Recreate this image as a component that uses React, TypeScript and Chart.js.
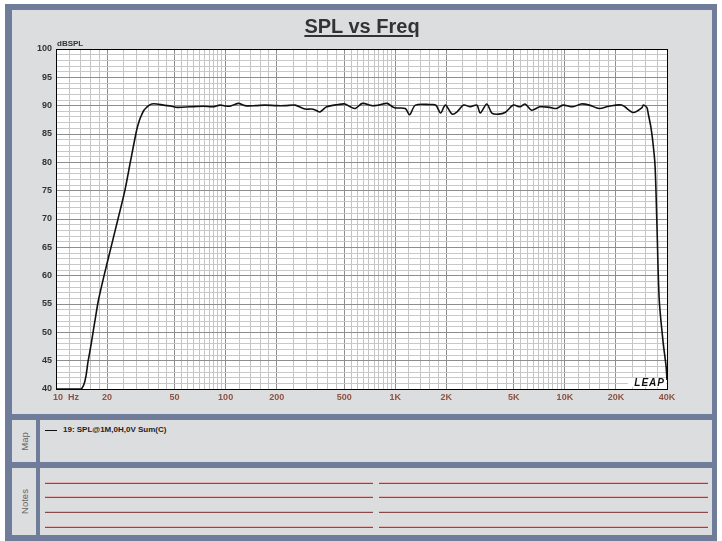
import React, { useEffect, useRef } from "react";
import { Chart, registerables } from "chart.js";

Chart.register(...registerables);

// ---- data ----
const FREQ_HZ = [10, 14.1, 15.5, 17, 17.8, 19.2, 21.1, 23.2, 25.5, 27.5, 29.9, 31, 32, 33, 34.2, 35.5, 36.7, 39.2, 43, 48, 52, 61.5, 74, 84, 92.6, 99, 106, 118.6, 130, 150, 170, 200, 224, 257, 294, 320, 340, 360, 394, 461, 505, 543, 582, 640, 728, 797, 895, 962, 1000, 1146, 1215, 1315, 1620, 1735, 1850, 1975, 2166, 2315, 2530, 2770, 3030, 3170, 3465, 3710, 4055, 4440, 4970, 5440, 5820, 6370, 7120, 8150, 8910, 9740, 11150, 12470, 13930, 15930, 18220, 21600, 25300, 28400, 29000, 30400, 31000, 32100, 32900, 34000, 34900, 36000, 38000, 39500, 40000];
const SPL_DB = [40, 40, 45.1, 52.2, 55.7, 60, 65, 70, 75.1, 80.2, 85.7, 87.4, 88.4, 89.2, 89.7, 90.1, 90.3, 90.3, 90.1, 89.9, 89.7, 89.8, 89.9, 89.8, 90.1, 89.95, 89.9, 90.4, 90.0, 90.0, 90.1, 90.0, 90.0, 90.1, 89.4, 89.4, 89.2, 88.9, 89.8, 90.2, 90.3, 89.8, 89.5, 90.4, 90.0, 90.1, 90.4, 89.8, 89.6, 89.5, 88.4, 90.1, 90.2, 90.1, 88.7, 90.1, 88.5, 88.9, 90.1, 89.8, 90.1, 88.7, 90.3, 88.7, 88.5, 88.8, 90.1, 89.8, 90.3, 89.2, 89.8, 89.7, 89.5, 90.1, 89.8, 90.3, 90.1, 89.5, 89.9, 90.1, 88.8, 89.6, 90.1, 89.7, 88.6, 86.3, 84.0, 79.5, 68.9, 55.7, 48.1, 44.0, 41.6];

const X_MIN = 10;
const X_MAX = 40000;
const Y_MIN = 40;
const Y_MAX = 100;
const X_LABELS: Record<string, string> = {
  "10": "        10  Hz",
  "20": "20",
  "50": "50",
  "100": "100",
  "200": "200",
  "500": "500",
  "1000": "1K",
  "2000": "2K",
  "5000": "5K",
  "10000": "10K",
  "20000": "20K",
  "40000": "40K",
};
const X_GRID_MULT = [1, 1.2, 1.4, 1.6, 1.8, 2, 2.5, 3, 3.5, 4, 4.5, 5, 5.5, 6, 6.5, 7, 7.5, 8, 8.5, 9, 9.5];
const DECADES = [10, 100, 1000, 10000];
const SERIES_LABEL = "19: SPL@1M,0H,0V Sum(C)";

function buildXGrid(): number[] {
  const out: number[] = [];
  for (const d of DECADES) {
    for (const m of X_GRID_MULT) {
      const v = Math.round(d * m * 1000) / 1000;
      if (v <= X_MAX && out.indexOf(v) < 0) out.push(v);
    }
  }
  if (out.indexOf(X_MAX) < 0) out.push(X_MAX);
  return out;
}

const SLATE = "#707d9a";
const PANEL = "#dcdddf";

const framePlugin = {
  id: "frameDeco",
  beforeDraw(chart: any) {
    const { ctx, chartArea } = chart;
    ctx.save();
    ctx.fillStyle = "#ffffff";
    ctx.fillRect(chartArea.left, chartArea.top, chartArea.right - chartArea.left, chartArea.bottom - chartArea.top);
    ctx.restore();
  },
  afterDraw(chart: any) {
    const { ctx, chartArea } = chart;
    const { left, top, right, bottom } = chartArea;
    ctx.save();
    ctx.strokeStyle = "#000";
    ctx.lineWidth = 1;
    ctx.strokeRect(Math.round(left) + 0.5, Math.round(top) + 0.5, Math.round(right - left), Math.round(bottom - top));
    // unit label
    ctx.fillStyle = "#333";
    ctx.font = "bold 8px 'Liberation Sans', Arial, sans-serif";
    ctx.textAlign = "left";
    ctx.textBaseline = "alphabetic";
    ctx.fillText("dBSPL", left + 1, top - 3);
    // LEAP logo
    const bw = 38, bh = 9;
    ctx.fillStyle = "#fff";
    ctx.fillRect(right - bw - 1, bottom - bh - 2, bw, bh);
    ctx.fillStyle = "#111";
    ctx.font = "italic bold 10px 'Liberation Sans', Arial, sans-serif";
    (ctx as any).letterSpacing = "1px";
    ctx.textAlign = "right";
    ctx.textBaseline = "alphabetic";
    ctx.fillText("LEAP", right - 2, bottom - 3);
    ctx.restore();
  },
};

function SplChart() {
  const ref = useRef<HTMLCanvasElement | null>(null);
  useEffect(() => {
    if (!ref.current) return;
    const gridX = buildXGrid();
    const chart = new Chart(ref.current, {
      type: "line",
      data: {
        datasets: [
          {
            label: SERIES_LABEL,
            data: FREQ_HZ.map((f, i) => ({ x: f, y: SPL_DB[i] })),
            borderColor: "#111",
            borderWidth: 1.6,
            pointRadius: 0,
            tension: 0.3,
            fill: false,
          },
        ],
      },
      options: {
        animation: false,
        responsive: false,
        events: [],
        layout: { padding: { left: 0, top: 39, right: 45, bottom: 0 } },
        plugins: { legend: { display: false }, title: { display: false }, tooltip: { enabled: false } },
        scales: {
          x: {
            type: "logarithmic",
            min: X_MIN,
            max: X_MAX,
            afterBuildTicks: (s: any) => {
              s.ticks = gridX.map((v) => ({ value: v }));
            },
            afterFit: (s: any) => {
              s.height = 25;
            },
            ticks: {
              autoSkip: false,
              maxRotation: 0,
              minRotation: 0,
              padding: 3,
              color: "#8c5443",
              font: { family: "'Liberation Sans', Arial, sans-serif", size: 9, weight: "bold" },
              callback: (v: any) => X_LABELS[String(v)] ?? "",
            },
            grid: {
              drawTicks: false,
              lineWidth: 1,
              color: (c: any) => (c.tick && X_LABELS[String(c.tick.value)] !== undefined ? "#8e8e8e" : "#c4c4c4"),
            },
            border: { display: true, color: "#000", width: 1 },
          },
          y: {
            type: "linear",
            min: Y_MIN,
            max: Y_MAX,
            afterBuildTicks: (s: any) => {
              const t = [];
              for (let v = Y_MIN; v <= Y_MAX; v++) t.push({ value: v });
              s.ticks = t;
            },
            afterFit: (s: any) => {
              s.width = 44;
            },
            ticks: {
              autoSkip: false,
              padding: 4,
              color: "#333",
              font: { family: "'Liberation Sans', Arial, sans-serif", size: 9, weight: "bold" },
              callback: (v: any) => (Number(v) % 5 === 0 ? String(v) : ""),
            },
            grid: {
              drawTicks: false,
              lineWidth: 1,
              color: (c: any) => (c.tick && c.tick.value % 5 === 0 ? "#8e8e8e" : "#c8c8c8"),
            },
            border: { display: true, color: "#000", width: 1 },
          },
        },
      },
      plugins: [framePlugin],
    } as any);
    return () => chart.destroy();
  }, []);
  return <canvas ref={ref} width={700} height={404} style={{ position: "absolute", left: 12, top: 10, width: 700, height: 404 }} />;
}

const NOTE_ROWS = [483, 497, 512, 527];

export default function App() {
  const font = "'Liberation Sans', Arial, sans-serif";
  const abs = (l: number, t: number, w: number, h: number, extra: any = {}) => ({
    position: "absolute" as const,
    left: l,
    top: t,
    width: w,
    height: h,
    ...extra,
  });
  return (
    <div style={{ position: "fixed", left: 0, top: 0, width: 722, height: 541, background: "#fff", overflow: "hidden", fontFamily: font }}>
      <div style={abs(5, 4, 712, 537, { background: SLATE })} />
      <div style={abs(12, 10, 700, 404, { background: PANEL })} />
      <SplChart />
      <div
        style={abs(12, 14, 700, 24, {
          textAlign: "center",
          fontWeight: "bold",
          fontSize: 20,
          color: "#333",
          textDecoration: "underline",
          textDecorationThickness: 2,
          textUnderlineOffset: 2,
          lineHeight: "24px",
        })}
      >
        SPL vs Freq
      </div>
      {/* Map row */}
      <div style={abs(12, 420, 24, 42, { background: PANEL })} />
      <div style={abs(40, 420, 672, 42, { background: PANEL })} />
      <div
        style={abs(12, 420, 24, 42, {
          display: "flex",
          alignItems: "center",
          justifyContent: "center",
        })}
      >
        <span style={{ transform: "rotate(-90deg)", fontSize: 9.5, color: "#666", whiteSpace: "nowrap" }}>Map</span>
      </div>
      <div style={abs(45, 430, 12, 1, { background: "#111" })} />
      <div style={abs(63, 424, 300, 12, { fontSize: 8, fontWeight: "bold", color: "#222", lineHeight: "12px", whiteSpace: "nowrap" })}>
        {SERIES_LABEL}
      </div>
      {/* Notes row */}
      <div style={abs(12, 468, 24, 67, { background: PANEL })} />
      <div style={abs(40, 468, 672, 67, { background: PANEL })} />
      <div
        style={abs(12, 468, 24, 67, {
          display: "flex",
          alignItems: "center",
          justifyContent: "center",
        })}
      >
        <span style={{ transform: "rotate(-90deg)", fontSize: 9.5, color: "#666", whiteSpace: "nowrap" }}>Notes</span>
      </div>
      {NOTE_ROWS.map((y) => (
        <React.Fragment key={y}>
          <div style={abs(45, y - 1, 328, 1, { background: "#e2b4b4" })} />
          <div style={abs(45, y, 328, 1, { background: "#8a4a4a" })} />
          <div style={abs(379, y - 1, 329, 1, { background: "#e2b4b4" })} />
          <div style={abs(379, y, 329, 1, { background: "#8a4a4a" })} />
        </React.Fragment>
      ))}
    </div>
  );
}
